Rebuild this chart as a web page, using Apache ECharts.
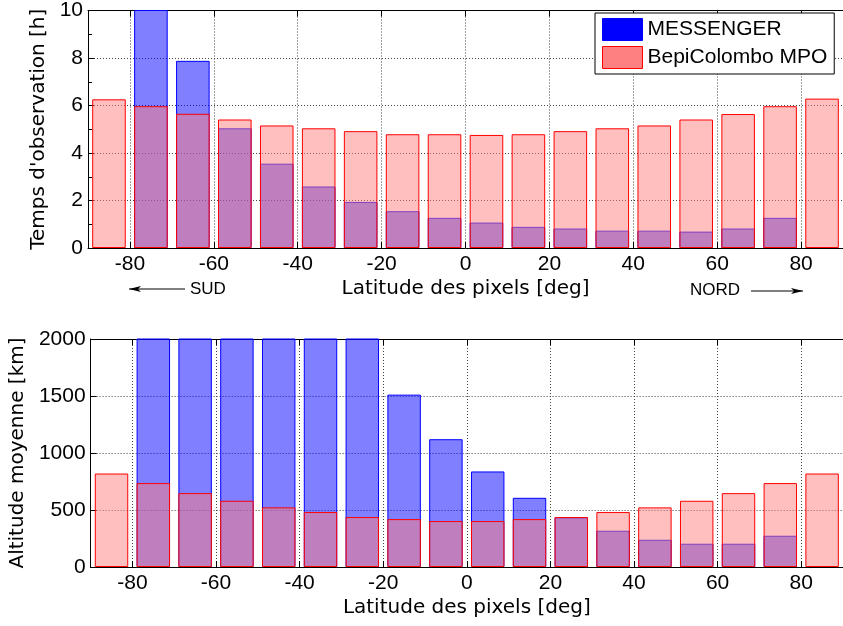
<!DOCTYPE html>
<html>
<head>
<meta charset="utf-8">
<script src="https://cdn.jsdelivr.net/npm/echarts@6/dist/echarts.min.js"></script>
<style>
html,body{margin:0;padding:0;background:#fff;overflow:hidden;}
#chart{width:843px;height:626px;}
</style>
</head>
<body>
<div id="chart"></div>
<script>
// Bin centres (latitude, deg)
const binCenters = [-85,-75,-65,-55,-45,-35,-25,-15,-5,5,15,25,35,45,55,65,75,85];
// Tick positions of the latitude axis (every 10 deg, labelled every 20)
const latTicks = [-90,-80,-70,-60,-50,-40,-30,-20,-10,0,10,20,30,40,50,60,70,80,90];

// Observation time [h]
const obsMessenger = [null,12,7.88,5.04,3.55,2.59,1.94,1.55,1.27,1.07,0.89,0.82,0.73,0.73,0.69,0.82,1.27,null];
const obsBepi = [6.26,5.97,5.65,5.41,5.16,5.04,4.92,4.79,4.79,4.76,4.79,4.92,5.04,5.16,5.41,5.64,5.97,6.29];

// Mean altitude [km]
const altMessenger = [null,8500,6500,5000,3800,2800,2100,1512,1121,838,607,435,318,239,204,204,274,null];
const altBepi = [820,736,648,581,523,482,438,420,403,403,420,438,482,523,581,648,736,820];

const yTicksTop = [0,2,4,6,8,10];
const yTicksBottom = [0,500,1000,1500,2000];

const seriesNames = ['MESSENGER','BepiColombo MPO'];

const tickFont = 'Liberation Sans, Arial, sans-serif';
const titleFont = 'DejaVu Sans, sans-serif';

const chart = echarts.init(document.getElementById('chart'), null, {renderer:'canvas'});

const grids = [
  {left:88, width:761, top:7, height:241},
  {left:88, width:761, top:339, height:228}
];

const showMajor = (i) => (i % 2 === 1);
const gridLine = {show:true, interval: (i)=>showMajor(i), lineStyle:{color:'#444', width:1, type:[1,2]}};

function latAxes(gi){
  return [
    {type:'category', gridIndex:gi, data:binCenters.map(String), show:false, boundaryGap:true},
    {type:'category', gridIndex:gi, data:latTicks.map(String), boundaryGap:false, position:'bottom',
      name:'Latitude des pixels [deg]', nameLocation:'middle', nameGap:31,
      nameTextStyle:{fontFamily:titleFont, fontSize:20, color:'#000'},
      axisLine:{show:true, onZero:false, lineStyle:{color:'#000', width:1}},
      axisTick:{show:true, inside:true, length:6, interval:(i)=>showMajor(i), lineStyle:{color:'#000'}},
      axisLabel:{show:true, interval:(i)=>showMajor(i), margin:6, fontFamily:tickFont, fontSize:21, color:'#000'},
      splitLine:gridLine},
    {type:'category', gridIndex:gi, data:latTicks.map(String), boundaryGap:false, position:'top',
      axisLine:{show:true, onZero:false, lineStyle:{color:'#000', width:1}},
      axisTick:{show:true, inside:true, length:6, interval:(i)=>showMajor(i), lineStyle:{color:'#000'}},
      axisLabel:{show:false}, splitLine:{show:false}}
  ];
}

const xAxes = latAxes(0).concat(latAxes(1));

const plainNum = (v) => String(v);

const yAxes = [
  {type:'value', gridIndex:0, min:yTicksTop[0], max:yTicksTop[yTicksTop.length-1], interval:yTicksTop[1]-yTicksTop[0],
    name:"Temps d'observation [h]", nameLocation:'middle', nameRotate:90, nameGap:33,
    nameTextStyle:{fontFamily:titleFont, fontSize:20, color:'#000'},
    axisLine:{show:true, lineStyle:{color:'#000', width:1}},
    axisTick:{show:true, inside:true, length:6, lineStyle:{color:'#000'}},
    minorTick:{show:true, splitNumber:2, length:4, lineStyle:{color:'#000'}},
    axisLabel:{margin:5, fontFamily:tickFont, fontSize:21, color:'#000', formatter:plainNum},
    splitLine:{show:true, lineStyle:{color:'#444', width:1, type:[1,2]}}},
  {type:'value', gridIndex:1, min:yTicksBottom[0], max:yTicksBottom[yTicksBottom.length-1], interval:yTicksBottom[1]-yTicksBottom[0],
    name:'Altitude moyenne [km]', nameLocation:'middle', nameRotate:90, nameGap:56,
    nameTextStyle:{fontFamily:titleFont, fontSize:20, color:'#000'},
    axisLine:{show:true, lineStyle:{color:'#000', width:1}},
    axisTick:{show:true, inside:true, length:6, lineStyle:{color:'#000'}},
    axisLabel:{margin:5, fontFamily:tickFont, fontSize:21, color:'#000', formatter:plainNum},
    splitLine:{show:true, lineStyle:{color:'#444', width:1, type:[1,2]}}}
];

const msgStyle = {color:'rgba(0,0,255,0.5)', borderColor:'#0000ff', borderWidth:1};
const bepiStyle = {color:'rgba(255,128,128,0.5)', borderColor:'#ff0000', borderWidth:1};

function bar(name, data, xi, yi, style){
  return {type:'bar', name:name, data:data, xAxisIndex:xi, yAxisIndex:yi,
    barWidth:'80%', barGap:'-100%', itemStyle:style, clip:true, silent:true, animation:false};
}

const series = [
  bar(seriesNames[0], obsMessenger, 0, 0, msgStyle),
  bar(seriesNames[1], obsBepi, 0, 0, bepiStyle),
  bar(seriesNames[0], altMessenger, 3, 1, msgStyle),
  bar(seriesNames[1], altBepi, 3, 1, bepiStyle)
];

function arrow(x1, x2, y, dir){
  const hx = dir < 0 ? x1 : x2;
  const s = dir < 0 ? 1 : -1;
  return [
    {type:'line', shape:{x1:x1, y1:y, x2:x2, y2:y}, style:{stroke:'#000', lineWidth:1}},
    {type:'polygon', shape:{points:[[hx,y],[hx+s*12,y-3],[hx+s*9,y],[hx+s*12,y+3]]}, style:{fill:'#000'}}
  ];
}

const graphic = [
  {type:'text', left:190, top:281, style:{text:'SUD', font:'17px ' + tickFont, fill:'#000'}},
  {type:'text', left:690, top:282, style:{text:'NORD', font:'17px ' + tickFont, fill:'#000'}}
].concat(arrow(129,185,289,-1)).concat(arrow(751,803,291,1));

chart.setOption({
  animation:false,
  backgroundColor:'#fff',
  grid:grids,
  xAxis:xAxes,
  yAxis:yAxes,
  legend:{
    left:595, top:13, orient:'vertical',
    itemWidth:40, itemHeight:22, itemGap:5,
    padding:[5,7,5,7],
    borderColor:'#000', borderWidth:1, backgroundColor:'#fff',
    icon:'rect',
    textStyle:{fontFamily:tickFont, fontSize:21, color:'#000'},
    data:[
      {name:seriesNames[0], itemStyle:{color:'#0000ff', borderColor:'#0000ff', borderWidth:1}},
      {name:seriesNames[1], itemStyle:{color:'#ff8080', borderColor:'#ff0000', borderWidth:1}}
    ],
    selectedMode:false
  },
  graphic:graphic,
  series:series
});
</script>
</body>
</html>
